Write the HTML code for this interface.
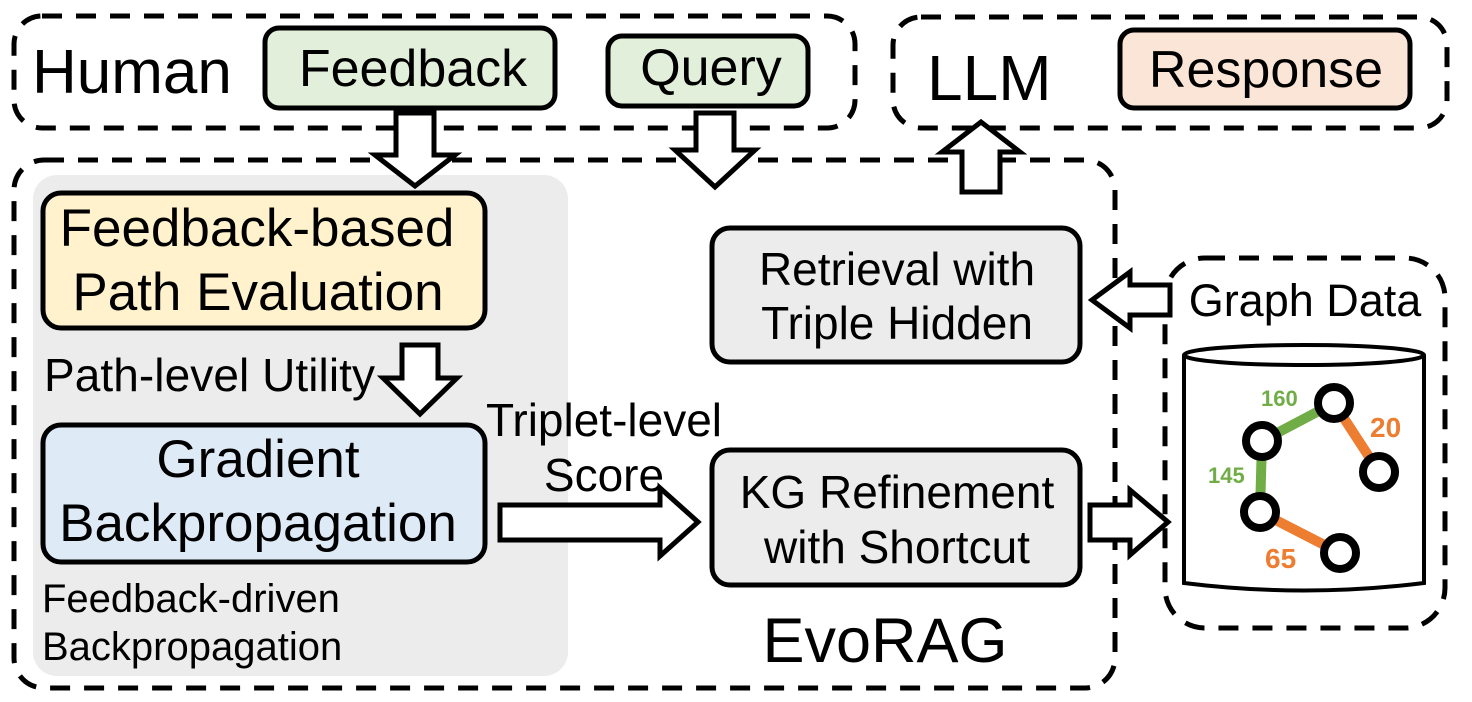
<!DOCTYPE html>
<html><head><meta charset="utf-8"><style>
html,body{margin:0;padding:0;background:#fff;}
svg{display:block;font-family:"Liberation Sans",Arial,sans-serif;}
</style></head><body>
<svg width="1472" height="702" viewBox="0 0 1472 702" xmlns="http://www.w3.org/2000/svg">
<g fill="none" stroke="#000" stroke-width="5" stroke-dasharray="20 14">
<rect x="14" y="16" width="841" height="112" rx="28"/>
<rect x="893" y="17" width="554" height="111" rx="28"/>
<rect x="14" y="160" width="1101" height="528" rx="30"/>
<rect x="1165" y="258" width="280" height="370" rx="40"/>
</g>
<rect x="33" y="175" width="535" height="501" rx="24" fill="#ececec"/>
<g stroke="#000" stroke-width="5">
<rect x="265" y="28" width="290" height="80" rx="14" fill="#e2efda"/>
<rect x="608" y="36" width="200" height="70" rx="14" fill="#e2efda"/>
<rect x="1120" y="30" width="290" height="78" rx="14" fill="#fbe5d6"/>
<rect x="43" y="193" width="442" height="135" rx="18" fill="#fff2cc"/>
<rect x="43" y="425" width="442" height="137" rx="18" fill="#deebf7"/>
<rect x="712" y="228" width="368" height="134" rx="18" fill="#ececec"/>
<rect x="712" y="450" width="368" height="135" rx="18" fill="#ececec"/>
</g>
<g fill="#fff" stroke="#000" stroke-width="5" stroke-linejoin="miter">
<path d="M396 113 H434 V155 H455 L415 186 L375 155 H396 Z"/>
<path d="M696 113 H734 V150 H755 L715 187 L675 150 H696 Z"/>
<path d="M962 192 H1000 V152 H1020 L981 122 L942 152 H962 Z"/>
<path d="M402 345 H438 V378 H457 L420 414 L383 378 H402 Z"/>
<path d="M500 505 H660 V488 L698 522 L660 556 V540 H500 Z"/>
<path d="M1170 285 H1130 V272 L1092 300 L1130 328 V315 H1170 Z"/>
<path d="M1090 505 H1130 V490 L1168 522 L1130 555 V540 H1090 Z"/>
</g>
<g stroke="#000" stroke-width="4" fill="#fff">
<path d="M1184 355 V583 Q1304 598 1424 583 V355"/>
<ellipse cx="1304" cy="355" rx="120" ry="10"/>
</g>
<g stroke-width="10" stroke-linecap="butt">
<line x1="1262" y1="441" x2="1334" y2="403" stroke="#70ad47"/>
<line x1="1262" y1="441" x2="1260" y2="512" stroke="#70ad47"/>
<line x1="1334" y1="403" x2="1379" y2="472" stroke="#ed7d31"/>
<line x1="1260" y1="512" x2="1340" y2="553" stroke="#ed7d31"/>
</g>
<g stroke="#000" stroke-width="8" fill="#fff">
<circle cx="1262" cy="441" r="16"/>
<circle cx="1334" cy="403" r="16"/>
<circle cx="1379" cy="472" r="16"/>
<circle cx="1260" cy="512" r="16"/>
<circle cx="1340" cy="553" r="16"/>
</g>
<g font-weight="bold">
<text x="1261" y="406" fill="#70ad47" font-size="22">160</text>
<text x="1208" y="483" fill="#70ad47" font-size="22">145</text>
<text x="1370" y="437" fill="#ed7d31" font-size="28">20</text>
<text x="1265" y="568" fill="#ed7d31" font-size="28">65</text>
</g>
<g fill="#000">
<text x="32" y="93" font-size="62">Human</text>
<text x="413" y="86" font-size="52" text-anchor="middle">Feedback</text>
<text x="711" y="85" font-size="52" text-anchor="middle">Query</text>
<text x="927" y="100" font-size="64">LLM</text>
<text x="1266" y="87" font-size="52" text-anchor="middle">Response</text>
<text x="257" y="246" font-size="53" text-anchor="middle">Feedback-based</text>
<text x="258" y="310" font-size="53" text-anchor="middle">Path Evaluation</text>
<text x="44" y="391" font-size="46" textLength="331">Path-level Utility</text>
<text x="258" y="477" font-size="53" text-anchor="middle">Gradient</text>
<text x="258" y="541" font-size="53" text-anchor="middle">Backpropagation</text>
<text x="42" y="612" font-size="40">Feedback-driven</text>
<text x="42" y="660" font-size="40">Backpropagation</text>
<text x="604" y="436" font-size="46" text-anchor="middle">Triplet-level</text>
<text x="604" y="491" font-size="46" text-anchor="middle">Score</text>
<text x="897" y="285" font-size="46" text-anchor="middle">Retrieval with</text>
<text x="897" y="339" font-size="46" text-anchor="middle">Triple Hidden</text>
<text x="897" y="508" font-size="46" text-anchor="middle">KG Refinement</text>
<text x="897" y="563" font-size="46" text-anchor="middle">with Shortcut</text>
<text x="885" y="662" font-size="63" text-anchor="middle">EvoRAG</text>
<text x="1305" y="316" font-size="45" text-anchor="middle">Graph Data</text>
</g>
</svg>
</body></html>
